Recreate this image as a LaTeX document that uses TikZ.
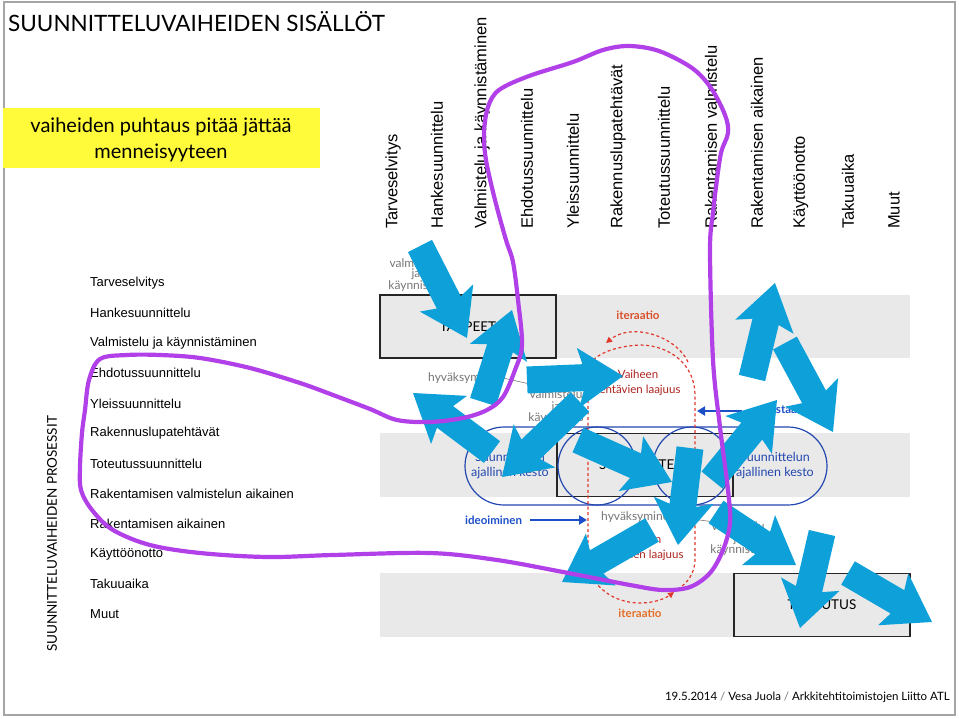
\documentclass[tikz,border=0pt]{standalone}
\usepackage{fontspec}
\setmainfont{Lato}
\newfontfamily\arialfont{Liberation Sans}
\usetikzlibrary{calc,arrows.meta}
\definecolor{bandgray}{RGB}{233,233,233}
\definecolor{framegray}{RGB}{165,165,165}
\definecolor{arrowblue}{RGB}{14,160,216}
\definecolor{loopviolet}{RGB}{178,64,232}
\definecolor{linkblue}{RGB}{28,78,200}
\definecolor{ellblue}{RGB}{35,72,175}
\definecolor{dashred}{RGB}{226,56,44}
\definecolor{itred}{RGB}{218,80,42}
\definecolor{darkred}{RGB}{172,36,30}
\definecolor{itorange}{RGB}{228,112,40}
\definecolor{notegray}{RGB}{118,118,118}
\definecolor{slideyellow}{RGB}{255,250,58}

\newcommand\blockarrow[2]{%
  \path (#2) coordinate (ba-tip)
        ($(#2)!40pt!(#1)$) coordinate (ba-neck)
        ($(#2)!45pt!(#1)$) coordinate (ba-barb);
  \fill[arrowblue]
    ($(#1)!13.5pt!90:(#2)$) --
    ($(ba-neck)!13.5pt!-90:(#1)$) --
    ($(ba-barb)!30pt!-90:(#1)$) --
    (ba-tip) --
    ($(ba-barb)!30pt!90:(#1)$) --
    ($(ba-neck)!13.5pt!90:(#1)$) --
    ($(#1)!13.5pt!-90:(#2)$) -- cycle;}

\begin{document}
\begin{tikzpicture}[x=1pt,y=-1pt,
  colhead/.style={rotate=90, anchor=west, inner sep=0pt, font=\arialfont\fontsize{16.5}{18}\selectfont},
  rowlabel/.style={anchor=west, inner sep=0pt, font=\arialfont\fontsize{13}{15}\selectfont},
  phasebox/.style={draw=black!85, fill=bandgray, line width=1.1pt, minimum width=176pt, minimum height=63pt, inner sep=0pt, font=\fontsize{13.5}{15}\selectfont},
  kestotext/.style={align=center, inner sep=0pt, text=ellblue, font=\fontsize{12.5}{15}\selectfont},
  notetext/.style={align=center, inner sep=0pt, text=notegray, font=\fontsize{12}{11.5}\selectfont},
  redtext/.style={align=center, inner sep=0pt, text=darkred, font=\fontsize{11.5}{14.5}\selectfont},
  itertext/.style={inner sep=0pt, font=\bfseries\fontsize{11.5}{14}\selectfont},
  bluetext/.style={inner sep=0pt, text=linkblue, font=\bfseries\fontsize{11.5}{14}\selectfont},
  redloop/.style={dashred, line width=1.2pt, dash pattern=on 3pt off 2.6pt},
  redtip/.style={-{Triangle[length=6pt,width=6pt]}},
  thinlink/.style={-{Triangle[length=8pt,width=9pt]}, linkblue, line width=2.6pt},
  leader/.style={notegray, line width=0.6pt}]
\useasboundingbox (0,0) rectangle (959,718);
\draw[framegray, line width=1.3pt] (4,2) rectangle (955,715);

% title and motto
\node[anchor=west, inner sep=0pt, font=\fontsize{22.5}{26}\selectfont] (title) at (8,22) {SUUNNITTELUVAIHEIDEN SISÄLLÖT};
\fill[slideyellow] (3,108) rectangle (320,168);
\node[align=center, inner sep=0pt, font=\fontsize{20}{26}\selectfont] (motto) at (161,140) {vaiheiden puhtaus pitää jättää\\menneisyyteen};

% column headers
\foreach \cx/\ct [count=\i] in {393/Tarveselvitys, 437/Hankesuunnittelu, 482/Valmistelu ja käynnistäminen, 527/Ehdotussuunnittelu, 573/Yleissuunnittelu, 618/Rakennuslupatehtävät, 664/Toteutussuunnittelu, 711/Rakentamisen valmistelu, 757/Rakentamisen aikainen, 801/Käyttöönotto, 848/Takuuaika, 894/Muut}
  \node[colhead] (col\i) at (\cx,229) {\ct};

% row labels
\foreach \ct [count=\i] in {Tarveselvitys, Hankesuunnittelu, Valmistelu ja käynnistäminen, Ehdotussuunnittelu, Yleissuunnittelu, Rakennuslupatehtävät, Toteutussuunnittelu, Rakentamisen valmistelun aikainen, Rakentamisen aikainen, Käyttöönotto, Takuuaika, Muut}
  \node[rowlabel] (row\i) at (90,{283+30.1*(\i-1)}) {\ct};
\node[rotate=90, inner sep=0pt, font=\fontsize{13.5}{15}\selectfont] (sideTitle) at (52,534) {SUUNNITTELUVAIHEIDEN PROSESSIT};

% footer
\node[anchor=east, inner sep=0pt, font=\fontsize{11.5}{13}\selectfont] (footer) at (950,697) {19.5.2014 {\color{notegray}/} Vesa Juola {\color{notegray}/} Arkkitehtitoimistojen Liitto ATL};

% bands and phase boxes
\fill[bandgray] (380,295) rectangle (910,358);
\fill[bandgray] (380,433) rectangle (910,497);
\fill[bandgray] (380,573) rectangle (910,637);
\node[phasebox] (tarpeet) at (468,326.5) {TARPEET};
\node[phasebox] (suunnittelu) at (645,465) {SUUNNITTELU};
\node[phasebox] (toteutus) at (822,605) {TOTEUTUS};

% duration shapes
\node[draw=ellblue, line width=1.2pt, rectangle, rounded corners=39pt, minimum width=362pt, minimum height=78pt] (kestoband) at (646,466) {};
\node[draw=ellblue, line width=1.2pt, circle, minimum size=78pt, inner sep=0pt] (ringA) at (597,466) {};
\node[draw=ellblue, line width=1.2pt, circle, minimum size=78pt, inner sep=0pt] (ringB) at (692,466) {};
\node[kestotext] (kestoL) at (510,466) {Suunnittelun\\ajallinen kesto};
\node[kestotext] (kestoR) at (775,466) {Suunnittelun\\ajallinen kesto};

% notes
\node[notetext, font=\fontsize{12}{10.5}\selectfont] (valmA) at (416,275) {valmistelu\\ja\\käynnistys};
\node[notetext] (valmB) at (556,407) {valmistelu\\ja\\käynnistys};
\node[notetext] (valmC) at (738,539) {valmistelu\\ja\\käynnistys};
\node[notetext, anchor=west] (hyvA) at (428,378) {hyväksyminen};
\node[notetext, anchor=west] (hyvB) at (601,517) {hyväksyminen};
\coordinate (leadA) at (530,384);
\coordinate (leadB) at (715,522);
\draw[leader] (hyvA.east) -- (leadA);
\draw[leader] (hyvB.east) -- (leadB);

\node[redtext] (laajA) at (638,383) {Vaiheen\\tehtävien laajuus};
\node[redtext] (laajB) at (641,548) {Vaiheen\\tehtävien laajuus};
\node[itertext, text=itred] (iterA) at (638,315) {iteraatio};
\node[itertext, text=itorange] (iterB) at (640,613) {iteraatio};

\node[bluetext, anchor=west] (ideo) at (465,520) {ideoiminen};
\coordinate (ideoEnd) at (587,520);
\draw[thinlink] ([xshift=8pt]ideo.east) -- (ideoEnd);
\node[bluetext, anchor=west] (vasta) at (764,410) {vastaanotto};
\coordinate (vastaStart) at (742,411);
\coordinate (vastaEnd) at (697,411);
\draw[thinlink] (vastaStart) -- (vastaEnd);

% iteration loops (dashed)
\coordinate (lpL1) at (588,560);
\coordinate (lpL0) at (588,372);
\coordinate (lpTop) at (640,345);
\coordinate (lpR0) at (695,395);
\coordinate (lpR1) at (695,560);
\coordinate (lpRb) at (678,589);
\coordinate (lpBot) at (640,603);
\coordinate (lpBtip) at (674,592);
\coordinate (arcTs) at (688,362);
\coordinate (arcTtip) at (606,343);
\draw[redloop] (lpL1) -- (lpL0) .. controls (588,355) and (615,346) .. (lpTop) .. controls (670,345) and (695,365) .. (lpR0) -- (lpR1) .. controls (695,572) and (688,583) .. (lpRb);
\draw[redloop, redtip] (lpL1) .. controls (590,588) and (615,603) .. (lpBot) .. controls (655,603) and (666,598) .. (lpBtip);
\draw[redloop, redtip] (arcTs) .. controls (676,336) and (632,322) .. (arcTtip);

% blue block arrows
\foreach \n/\tx/\ty/\hx/\hy in {
  a1/420/246/467/338, a2/483/402/512/310, a3/527/380/623/376, a4/492/452/413/393,
  a5/580/402/502/477, a6/578/440/672/482, a7/690/448/678/545, a8/712/480/777/400,
  a9/785/343/833/432, a10/752/378/775/283, a12/652/530/562/582, a13/716/512/796/565,
  a14/822/533/800/628, a15/848/573/932/622}{
  \coordinate (\n t) at (\tx,\ty);
  \coordinate (\n h) at (\hx,\hy);
  \blockarrow{\n t}{\n h}
}

% violet loop
\draw[loopviolet, line width=4.2pt, line cap=round, line join=round] plot[smooth cycle, tension=0.55] coordinates {
 (370,409) (333,395) (300,383) (250,368) (200,358) (160,355) (127,355) (100,359)
 (89,380) (85,410) (82,433) (80,467) (81,490) (92,510) (113,530) (150,545)
 (200,553) (267,557) (333,555) (430,553) (497,560) (563,572) (630,585) (663,590)
 (690,587) (710,573) (723,550) (730,523) (728,490) (720,427) (713,360) (710,250)
 (713,213) (716,187) (721,153) (728,133) (725,115) (711,88) (692,68) (659,51)
 (629,46) (603,50) (573,62) (529,76) (499,90) (488,107) (484,133) (486,160)
 (495,200) (506,240) (513,262) (518,300) (522,345) (515,370) (503,397) (487,410)
 (463,418) (430,422) (397,420)};
\end{tikzpicture}
\end{document}
